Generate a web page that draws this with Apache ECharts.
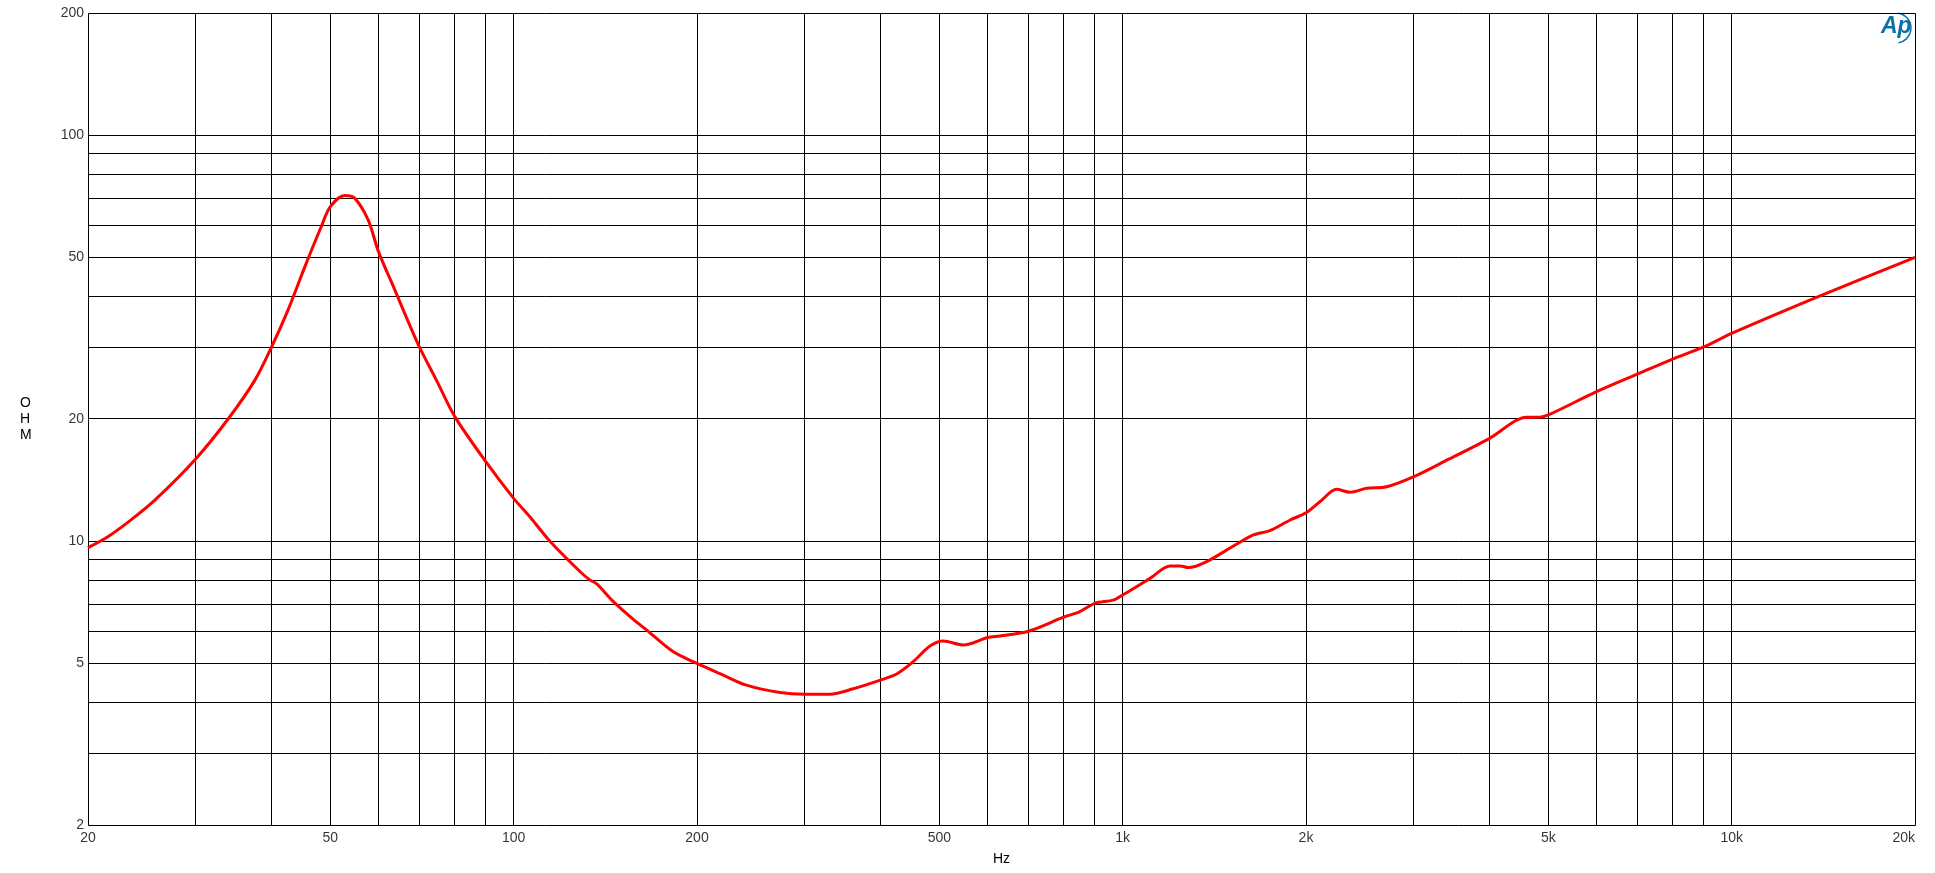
<!DOCTYPE html>
<html>
<head>
<meta charset="utf-8">
<script src="https://cdn.jsdelivr.net/npm/echarts@6/dist/echarts.min.js"></script>
<style>
html,body{margin:0;padding:0;background:#fff;}
#chart{width:1935px;height:873px;}
</style>
</head>
<body>
<div id="chart"></div>
<script>
// Impedance curve: frequency (Hz) and impedance (ohm)
const freqHz = [20, 21.56, 23.3, 25.75, 30, 33.97, 37.57, 40, 42.6, 45.4, 48.3, 50, 52.8, 54.8, 57.7, 60, 63.8, 66.6, 70, 74.7, 80, 90, 100, 106.3, 114.7, 128.6, 133.5, 136.9, 145.8, 157.2, 165.4, 182.9, 200, 220.8, 241, 273.7, 300, 330.6, 361, 400, 425.6, 453, 482.6, 507.6, 547.6, 600, 629, 700, 800, 850.9, 900, 965, 1000, 1109, 1196, 1242, 1282, 1374, 1520, 1639, 1745, 1884, 2000, 2108, 2245, 2362, 2516, 2714, 3000, 3425, 4000, 4608, 4844, 5000, 6000, 7000, 8000, 9000, 10000, 13970, 20000];
const impedanceOhm = [9.64, 10.26, 11.16, 12.63, 15.9, 20, 24.9, 30, 37.1, 47.4, 59.5, 66.7, 71.0, 70, 61.8, 51.6, 41.6, 35.7, 30.1, 24.9, 20.3, 15.7, 12.75, 11.49, 10.0, 8.41, 8.02, 7.85, 7.10, 6.42, 6.04, 5.34, 5.0, 4.68, 4.42, 4.24, 4.20, 4.20, 4.33, 4.55, 4.71, 5.05, 5.52, 5.68, 5.55, 5.79, 5.84, 6.0, 6.5, 6.71, 7.03, 7.16, 7.37, 8.10, 8.69, 8.69, 8.61, 8.91, 9.73, 10.36, 10.62, 11.28, 11.75, 12.51, 13.42, 13.2, 13.5, 13.62, 14.4, 15.9, 17.9, 20.2, 20.2, 20.46, 23.35, 25.8, 28.1, 30.1, 32.5, 40.2, 50];

// Axis ticks
const xTickValues = [20, 50, 100, 200, 500, 1000, 2000, 5000, 10000, 20000];
const xTickLabels = ['20', '50', '100', '200', '500', '1k', '2k', '5k', '10k', '20k'];
const yTickValues = [2, 5, 10, 20, 50, 100, 200];
const yTickLabels = ['2', '5', '10', '20', '50', '100', '200'];

// Grid lines (1..9 per decade, including the frame)
const xGridValues = [20, 30, 40, 50, 60, 70, 80, 90, 100, 200, 300, 400, 500, 600, 700, 800, 900, 1000, 2000, 3000, 4000, 5000, 6000, 7000, 8000, 9000, 10000, 20000];
const yGridValues = [2, 3, 4, 5, 6, 7, 8, 9, 10, 20, 30, 40, 50, 60, 70, 80, 90, 100, 200];

const X_MIN = 20, X_MAX = 20000, Y_MIN = 2, Y_MAX = 200;

const chart = echarts.init(document.getElementById('chart'), null, {renderer: 'canvas'});

const labelFont = {fontFamily: '"Liberation Sans", Arial, sans-serif', fontSize: 14, color: '#000'};

const curve = freqHz.map((f, i) => [f, impedanceOhm[i]]);

const xLabelData = xTickValues.map((v, i) => {
  const item = {value: [v, Y_MIN], name: xTickLabels[i]};
  if (i === xTickValues.length - 1) item.label = {align: 'right'};
  return item;
});
const yLabelData = yTickValues.map((v, i) => ({value: [X_MIN, v], name: yTickLabels[i]}));

const gridData = xGridValues.map(v => [0, v]).concat(yGridValues.map(v => [1, v]));

function crisp(p) { return Math.round(p - 0.5) + 0.5; }

const option = {
  animation: false,
  backgroundColor: '#fff',
  grid: {left: 88, top: 13, right: 20, bottom: 48, show: false},
  xAxis: {
    type: 'log', logBase: 10, min: X_MIN, max: X_MAX,
    axisLine: {show: false}, axisTick: {show: false}, axisLabel: {show: false}, splitLine: {show: false}
  },
  yAxis: {
    type: 'log', logBase: 10, min: Y_MIN, max: Y_MAX,
    axisLine: {show: false}, axisTick: {show: false}, axisLabel: {show: false}, splitLine: {show: false}
  },
  series: [
    {
      type: 'custom', name: 'grid', data: gridData, silent: true, z: 1, clip: false,
      renderItem: function (params, api) {
        const kind = api.value(0), v = api.value(1);
        let a, b;
        if (kind === 0) { a = api.coord([v, Y_MIN]); b = api.coord([v, Y_MAX]); const x = crisp(a[0]); a[0] = x; b[0] = x; a[1] = crisp(a[1]); b[1] = crisp(b[1]); }
        else { a = api.coord([X_MIN, v]); b = api.coord([X_MAX, v]); const y = crisp(a[1]); a[1] = y; b[1] = y; a[0] = crisp(a[0]); b[0] = crisp(b[0]); }
        return {type: 'line', shape: {x1: a[0], y1: a[1], x2: b[0], y2: b[1]}, style: {stroke: '#000', lineWidth: 1}};
      }
    },
    {
      type: 'scatter', name: 'xlabels', data: xLabelData, symbolSize: 0, clip: false, silent: true, z: 1,
      label: Object.assign({show: true, position: 'bottom', distance: 6, formatter: p => p.name}, labelFont)
    },
    {
      type: 'scatter', name: 'ylabels', data: yLabelData, symbolSize: 0, clip: false, silent: true, z: 1,
      label: Object.assign({show: true, position: 'left', distance: 4, formatter: p => p.name}, labelFont)
    },
    {
      type: 'line', name: 'Impedance', data: curve, smooth: 0.3, showSymbol: false, z: 5,
      lineStyle: {color: '#ff0000', width: 3}, silent: true
    }
  ],
  graphic: [
    {type: 'text', left: 993, top: 852, style: {text: 'Hz', font: '14px "Liberation Sans", Arial, sans-serif', fill: '#000'}},
    {type: 'text', left: 20, top: 395, style: {text: 'O\nH\nM', font: '14px "Liberation Sans", Arial, sans-serif', fill: '#000', lineHeight: 16, align: 'center', width: 12}},
    {type: 'text', left: 1881, top: 15, style: {text: 'Ap', font: 'italic bold 23px "Liberation Sans", Arial, sans-serif', fill: '#0d70aa'}},
    {type: 'arc', shape: {cx: 1896, cy: 28, r: 15, startAngle: -Math.PI * 0.45, endAngle: Math.PI * 0.45}, style: {stroke: '#0d70aa', lineWidth: 1.5, fill: null}}
  ]
};
chart.setOption(option);
</script>
</body>
</html>
